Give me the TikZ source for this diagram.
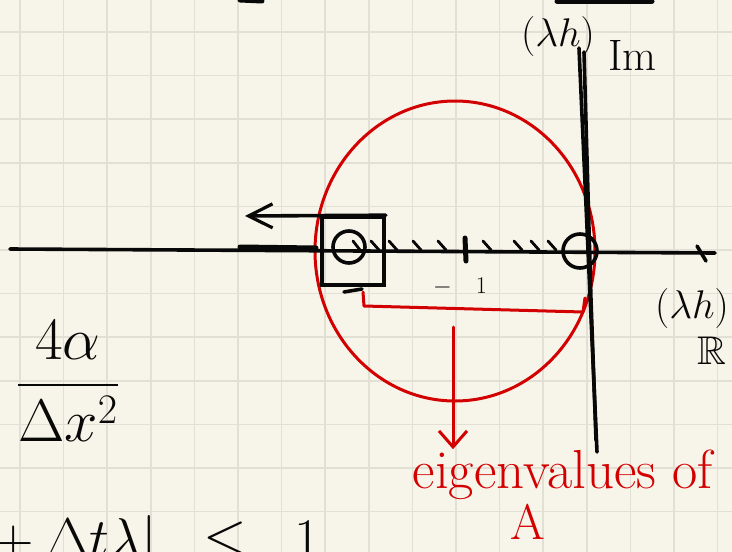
\RequirePackage{fix-cm}
\documentclass[tikz,border=0pt]{standalone}
\usepackage{amssymb}
\usepackage{xcolor}
\usepackage{tikz}
\usetikzlibrary{arrows.meta,positioning}

\definecolor{paper}{RGB}{247,245,233}
\definecolor{gridline}{RGB}{226,224,213}
\definecolor{ink}{RGB}{8,8,8}
\definecolor{redink}{RGB}{210,0,0}

\begin{document}
\begin{tikzpicture}[
  x=1pt,y=-1pt,
  inkline/.style={draw=ink,line width=3.6pt,line cap=round,line join=round},
  redline/.style={draw=redink,line width=3pt,line cap=round,line join=round},
  hashmark/.style={draw=ink,line width=2.8pt,line cap=round},
  paperline/.style={draw=gridline,line width=1.7pt},
  lbl/.style={inner sep=0pt,text=ink},
  redlbl/.style={inner sep=0pt,text=redink},
  arr/.style={-{Straight Barb[length=24pt,width=24pt,line width=3.2pt]}}
]
  \useasboundingbox (0,0) rectangle (732,552);
  \fill[paper] (0,0) rectangle (732,552);
  \foreach \gx in {0,...,16}
    \draw[paperline] ({20+43.6*\gx},0) -- ({20+43.6*\gx},552);
  \foreach \gy in {0,...,11}
    \draw[paperline] (0,{32+43.6*\gy}) -- (732,{32+43.6*\gy});

  \draw[redline] (455,251) ellipse [x radius=140,y radius=150];

  \coordinate (west) at (10,249);
  \coordinate (east) at (715,253);
  \draw[inkline] (west) -- (east);
  \draw[inkline,line width=5pt] (240,247) -- (316,248);
  \draw[inkline] (697,246) -- (706,261);

  \coordinate (north) at (579,48);
  \coordinate (south) at (597,452);
  \draw[inkline] (north) -- (south);
  \draw[inkline] (584,52) -- (591,300) -- (596,440);

  \draw[inkline,line width=5pt] (240,0) -- (262,1);
  \draw[inkline,line width=5pt] (557,1) -- (652,1);

  \node[draw=ink,line width=3.6pt,minimum width=62pt,minimum height=68pt] (lambox) at (353,251) {};
  \node[circle,draw=ink,line width=3.6pt,minimum size=32pt,inner sep=0pt] (lampt) at (349,247) {};
  \node[circle,draw=ink,line width=3.6pt,minimum size=34pt,inner sep=0pt] (origin) at (580,251) {};
  \draw[inkline] (344,292) -- (362,289);

  \coordinate (push) at (245,216);
  \draw[inkline,arr] (lambox.north east) -- (push);

  \draw[hashmark] (353,241) -- (360,250) (371,241) -- (379,250) (389,241) -- (397,250)
    (413,241) -- (421,250) (438,241) -- (446,250) (483,241) -- (491,250)
    (514,241) -- (522,250) (531,241) -- (539,250) (548,241) -- (556,250);
  \draw[inkline,line width=5pt] (465,238) -- (466,261);
  \node[lbl,font=\fontsize{24}{28}\selectfont,anchor=base] (minone) at (460,293) {$-\quad1$};

  \draw[redline] (363,292) -- (364,306) -- (583,312) -- (585,298);

  \node[lbl,font=\fontsize{40}{44}\selectfont] (imlbl) at (558,36) {$(\lambda h)$};
  \node[lbl,font=\fontsize{44}{48}\selectfont,below right=-16pt and 13pt of imlbl] (imsub) {Im};
  \node[lbl,font=\fontsize{40}{44}\selectfont] (relbl) at (692,308) {$(\lambda h)$};
  \node[lbl,font=\fontsize{40}{44}\selectfont,below=9pt of relbl,xshift=20pt] (resub) {$\mathbb{R}$};

  \node[redlbl,font=\fontsize{55}{60}\selectfont,anchor=base] (eigtxt) at (563,488) {eigenvalues of};
  \node[redlbl,font=\fontsize{50}{54}\selectfont,below=5pt of eigtxt,xshift=-35pt] (eigmat) {A};
  \coordinate (brk) at (453,327);
  \draw[redline,-{Straight Barb[length=16pt,width=28pt]}] (brk) -- (brk |- eigtxt.north);

  \node[lbl,font=\fontsize{60}{64}\selectfont] (ratio) at (68,381) {$\displaystyle\frac{4\alpha}{\Delta x^2}$};
  \node[lbl,font=\fontsize{56}{60}\selectfont,anchor=base west] (cond) at (-60,557) {$|1+\Delta t\lambda|\;\;\le\;\;1$};
\end{tikzpicture}
\end{document}
